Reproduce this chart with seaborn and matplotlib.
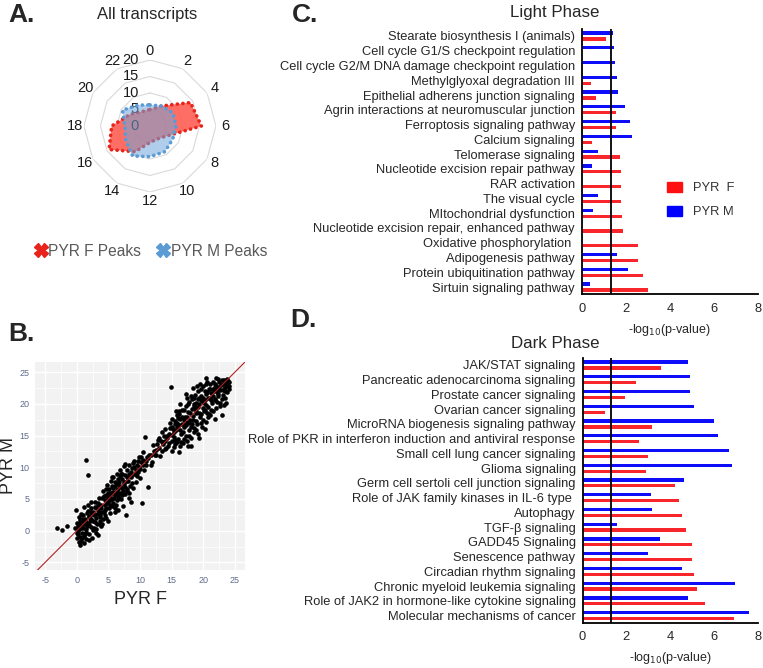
import numpy as np
import pandas as pd
import seaborn as sns
import matplotlib.pyplot as plt
from matplotlib.patches import Patch
from matplotlib.lines import Line2D

# ---- data ----
# A. radar (hour of peak vs number of transcripts)
hours = [0, 2, 4, 6, 8, 10, 12, 14, 16, 18, 20, 22]
pyr_f_peaks = [5, 7, 14.2, 15.6, 6, 4.5, 5, 9, 14.3, 11.6, 7, 5]
pyr_m_peaks = [6.4, 7, 8, 7.9, 8, 9, 9.3, 10.5, 8.5, 7.6, 9.6, 7.3]
radar_rings = [0, 5, 10, 15, 20]

# B. scatter PYR F vs PYR M
pyr_f_expr = [
    -0.3, 0.0, 0.2, 0.4, 0.1, 0.5, 0.7, 0.3, 0.6, 0.9, -0.1, 0.8, 0.2, 0.5, 1.0,
    1.1, 1.3, 1.4, 1.6, 1.2, 1.8, 1.9, 1.5, 2.0, 1.7, 2.2, 2.3, 2.4, 2.1, 2.6,
    2.8, 2.9, 3.0, 3.2, 3.3, 3.4, 3.5, 3.6, 3.8, 3.9, 4.0, 4.1, 4.2, 4.4, 4.5,
    4.6, 4.7, 4.8, 4.9, 5.0, 5.1, 5.2, 5.3, 5.4, 5.5, 5.6, 5.7, 5.8, 5.9, 6.0,
    6.1, 6.2, 6.3, 6.4, 6.5, 6.6, 6.7, 6.8, 6.9, 7.0, 7.1, 7.2, 7.3, 7.4, 7.5,
    7.6, 7.7, 7.8, 7.9, 8.0, 8.1, 8.2, 8.3, 8.5, 8.6, 8.8, 8.9, 9.0, 9.2, 9.4,
    9.5, 9.7, 9.9, 10.0, 10.2, 10.3, 10.4, 10.6, 10.8, 11.0, 11.2, 11.4, 11.7, 12.0, 12.3,
    12.5, 12.8, 13.0, 13.2, 13.5, 13.7, 13.9, 14.0, 14.2, 14.4, 14.6, 14.8, 14.9, 15.0, 15.1,
    15.2, 15.3, 15.5, 15.6, 15.7, 15.9, 16.0, 16.1, 16.2, 16.4, 16.5, 16.7, 16.8, 17.0, 17.1,
    17.2, 17.3, 17.5, 17.6, 17.7, 17.8, 17.9, 18.0, 18.1, 18.2, 18.4, 18.5, 18.6, 18.8, 18.9,
    19.0, 19.1, 19.2, 19.3, 19.5, 19.6, 19.7, 19.8, 20.0, 20.1, 20.2, 20.4, 20.5, 20.6, 20.8,
    21.0, 21.1, 21.3, 21.5, 21.6, 21.8, 22.0, 22.1, 22.3, 22.4, 22.6, 22.8, 23.0, 23.1, 23.3,
    23.5, 23.7, 23.9, 24.0, 23.6,
    -3.2, -2.4, -1.5, 1.5, 1.8,
    14.5, 15.4, 15.8, 16.3, 16.6, 16.9, 17.4, 17.9, 18.3, 18.7, 19.4, 19.9, 20.3, 20.7, 21.2,
    21.7, 22.2, 22.7, 23.2, 23.8, 21.4, 20.9, 19.6, 18.6, 17.6, 16.8, 15.9, 15.1, 14.3, 13.6,
    13.3, 12.6, 11.8, 11.1, 10.5, 9.8, 9.3, 8.7, 8.4, 7.9, 7.4, 6.9, 6.5, 6.1, 5.7,
    5.3, 4.9, 4.4, 3.9, 3.5, 3.1, 2.7, 2.3, 1.9, 1.5, 1.1, 0.7, 0.3, 2.5, 3.7,
    4.3, 5.1, 6.3, 7.2, 8.0, 6.6, 5.5, 4.6, 3.3, 2.2, 18.0, 19.0, 20.4, 22.0, 16.2,
    17.4, 18.9, 20.6, 21.9, 23.4,
    14.1, 14.7, 15.5, 16.0, 16.5, 17.0, 17.3, 17.8, 18.2, 18.5, 18.9, 19.3, 19.7, 20.0, 20.3,
    20.8, 21.1, 21.5, 21.8, 22.3, 22.5, 22.9, 23.3, 23.7, 24.1, 20.5, 19.5, 18.4, 17.2, 16.4,
    15.7, 15.0, 13.8, 13.0, 12.2,
    0.4, 0.9, 1.3, 1.6, 2.0, 2.4, 2.9, 3.2, 3.6, 4.0, 4.5, 4.8, 5.2, 5.6, 6.0,
    6.4, 6.8, 7.2, 7.6, 8.2, 8.9, 9.6, 10.1, 10.9, 0.1, 0.6, 1.2, 3.0,
    14.6, 15.0, 15.3, 15.6, 15.9, 16.1, 16.3, 16.6, 16.9, 17.1, 17.4, 17.6, 17.8, 18.0, 18.2,
    18.5, 18.7, 18.9, 19.1, 19.4, 19.6, 19.8, 20.0, 20.2, 20.4, 20.6, 20.9, 21.1, 21.3, 21.6,
    21.8, 22.0, 22.2, 22.5, 22.7, 22.9, 23.1, 23.4, 23.6, 23.8, 24.0, 23.3, 21.9, 20.1, 19.2,
    0.2, 0.5, 0.8, 1.0, 1.4, 1.7, 2.0, 2.3, 2.6, 2.9, 3.1, 3.4, 3.7, 4.0, 4.3,
    4.6, 4.9, 5.2, 5.5, 5.8, 6.1, 6.4, 6.7, 7.0, 7.3, 7.6, 7.9, 8.2, 8.5, 8.8,
    9.1, 9.4, 9.7, 10.0, 10.5, 11.3, 11.9, 12.7, 13.4, 14.0,
]
pyr_m_expr = [
    0.5, 1.2, -0.5, 0.3, -1.2, -2.2, -1.6, 2.1, 0.9, -0.3, 3.2, 1.6, 0.0, -1.0, 0.5,
    -0.8, 1.9, 0.2, 2.8, 3.8, 1.1, -1.5, -0.2, 2.2, 4.1, 0.6, 3.5, -1.1, 1.5, 2.9,
    0.4, 4.6, 2.0, 1.1, 3.2, -0.7, 5.1, 2.5, 4.0, 0.8, 3.0, 6.2, 1.8, 4.8, 2.4,
    5.6, 3.5, 7.2, 1.5, 4.6, 6.5, 2.8, 5.4, 7.8, 3.9, 6.0, 4.4, 8.5, 5.2, 2.9,
    7.0, 4.0, 6.4, 8.9, 5.5, 3.3, 7.6, 6.0, 9.5, 5.0, 8.1, 6.8, 3.9, 10.2, 7.3,
    5.8, 8.8, 2.5, 6.5, 9.6, 7.9, 5.2, 10.4, 4.6, 8.4, 9.9, 6.7, 11.0, 8.9, 7.6,
    10.3, 9.2, 11.6, 8.3, 10.8, 4.3, 12.4, 9.6, 14.7, 11.0, 6.9, 12.0, 10.4, 13.5, 11.9,
    12.7, 14.3, 13.0, 11.8, 15.5, 14.0, 12.9, 16.1, 14.6, 13.4, 15.3, 17.0, 22.6, 14.2, 12.6,
    16.0, 14.8, 17.3, 13.6, 15.8, 18.2, 14.5, 16.7, 12.4, 17.6, 15.2, 19.0, 13.8, 16.3, 18.0,
    14.9, 19.6, 17.2, 13.3, 15.8, 20.3, 18.6, 16.4, 13.3, 19.2, 17.4, 21.0, 15.5, 18.5, 20.2,
    16.8, 22.0, 19.5, 14.6, 18.0, 21.3, 17.0, 20.4, 22.8, 18.9, 16.0, 21.6, 19.8, 23.4, 17.9,
    20.9, 22.4, 19.0, 23.5, 21.2, 17.6, 22.8, 20.3, 23.9, 21.6, 19.6, 23.0, 18.3, 22.2, 23.8,
    21.0, 22.8, 23.6, 22.3, 20.2,
    0.5, 0.1, 0.7, 11.1, 8.8,
    14.9, 15.6, 16.4, 15.9, 16.9, 17.5, 17.9, 17.4, 18.1, 19.4, 19.9, 19.3, 20.6, 20.9, 21.7,
    22.1, 22.4, 22.2, 23.1, 23.0, 20.1, 22.3, 20.6, 19.9, 18.7, 15.6, 17.0, 15.1, 15.0, 13.6,
    14.1, 12.0, 11.9, 11.6, 10.4, 10.0, 9.5, 8.8, 7.1, 7.9, 7.7, 7.0, 6.6, 5.7, 6.1,
    4.9, 5.1, 4.1, 3.6, 3.0, 3.6, 2.4, 1.9, 2.3, 1.4, 1.0, 0.4, 1.1, 0.1, 1.6,
    2.9, 3.6, 4.9, 5.6, 6.3, 8.1, 7.0, 6.5, 4.4, 3.0, 21.2, 22.8, 23.1, 24.0, 18.9,
    20.9, 15.8, 18.6, 20.6, 22.0,
    13.0, 16.2, 14.3, 17.8, 14.0, 19.0, 16.6, 15.0, 16.9, 19.6, 17.3, 21.0, 18.4, 17.5, 22.0,
    19.5, 18.2, 22.3, 20.8, 21.2, 23.5, 20.8, 19.8, 23.9, 22.8, 24.0, 23.2, 22.5, 21.5, 20.0,
    18.8, 17.6, 15.0, 14.6, 12.6,
    -1.8, 1.9, -0.5, 0.7, -0.6, 2.7, 1.3, 2.7, 1.0, 5.2, 3.3, 4.3, 6.0, 5.0, 7.6,
    6.0, 8.6, 9.0, 6.9, 8.9, 10.6, 8.6, 11.6, 10.3, -0.4, 2.6, -1.9, -0.3,
    13.8, 16.4, 13.2, 16.8, 14.0, 18.4, 13.4, 17.9, 14.4, 16.9, 14.2, 20.0, 17.0, 14.6, 20.8,
    16.2, 21.4, 18.9, 15.2, 18.6, 22.4, 16.4, 21.0, 19.0, 17.2, 21.9, 18.4, 23.2, 20.6, 18.8,
    23.1, 19.4, 21.8, 22.6, 20.2, 23.7, 21.4, 22.7, 23.3, 21.8, 23.4, 22.3, 22.6, 20.1, 20.7,
    0.8, 1.7, -1.2, 2.4, -1.3, 3.1, 0.9, 4.6, 1.6, 3.8, 0.2, 4.1, 2.2, 1.1, 5.5,
    2.0, 6.0, 4.0, 8.5, 6.8, 3.5, 7.3, 5.1, 9.0, 6.2, 10.5, 8.5, 6.0, 9.3, 7.5,
    10.0, 9.0, 11.0, 9.8, 11.2, 11.4, 10.9, 13.6, 12.6, 14.1,
]

# C. light phase pathways (-log10 p)
light_pathways = [
    "Stearate biosynthesis I (animals)", "Cell cycle G1/S checkpoint regulation",
    "Cell cycle G2/M DNA damage checkpoint regulation", "Methylglyoxal degradation III",
    "Epithelial adherens junction signaling", "Agrin interactions at neuromuscular junction",
    "Ferroptosis signaling pathway", "Calcium signaling", "Telomerase signaling",
    "Nucleotide excision repair pathway", "RAR activation", "The visual cycle",
    "MItochondrial dysfunction", "Nucleotide excision repair, enhanced pathway",
    "Oxidative phosphorylation ", "Adipogenesis pathway", "Protein ubiquitination pathway",
    "Sirtuin signaling pathway",
]
light_f = [1.08, 0, 0, 0.41, 0.62, 1.55, 1.56, 0.45, 1.74, 1.79, 1.79, 1.79, 1.82, 1.85,
           2.53, 2.56, 2.76, 3.02]
light_m = [1.41, 1.47, 1.52, 1.59, 1.62, 1.97, 2.17, 2.29, 0.74, 0.45, 0, 0.71, 0.48, 0,
           0, 1.59, 2.08, 0.35]

# D. dark phase pathways
dark_pathways = [
    "JAK/STAT signaling", "Pancreatic adenocarcinoma signaling", "Prostate cancer signaling",
    "Ovarian cancer signaling", "MicroRNA biogenesis signaling pathway",
    "Role of PKR in interferon induction and antiviral response",
    "Small cell lung cancer signaling", "Glioma signaling",
    "Germ cell sertoli cell junction signaling", "Role of JAK family kinases in IL-6 type ",
    "Autophagy", "TGF-β signaling", "GADD45 Signaling", "Senescence pathway",
    "Circadian rhythm signaling", "Chronic myeloid leukemia signaling",
    "Role of JAK2 in hormone-like cytokine signaling", "Molecular mechanisms of cancer",
]
dark_f = [3.60, 2.42, 1.92, 1.02, 3.19, 2.56, 2.97, 2.89, 4.21, 4.40, 4.52, 4.71, 5.00, 5.00,
          5.06, 5.20, 5.60, 6.92]
dark_m = [4.82, 4.90, 4.90, 5.10, 6.01, 6.16, 6.68, 6.80, 4.61, 3.12, 3.15, 1.55, 3.53, 3.00,
          4.55, 6.95, 4.79, 7.60]

sig_cutoff = 1.3  # -log10(0.05)

RED = '#F8262B'
BLUE = '#0D0DFA'
FONT = ['Liberation Sans', 'DejaVu Sans']

sns.set_style('white')
plt.rcParams['font.family'] = FONT
plt.rcParams['axes.unicode_minus'] = False

fig = plt.figure(figsize=(7.63, 6.68), dpi=100)

# ---------- A: radar ----------
axA = fig.add_axes([0.110, 0.7126, 0.173, 0.1976], projection='polar')
theta = np.deg2rad(np.array(hours) * 15.0)
th = np.append(theta, theta[0])
axA.set_theta_zero_location('N')
axA.set_theta_direction(-1)
axA.set_ylim(0, 20)
axA.grid(False)
axA.spines['polar'].set_visible(False)
axA.set_facecolor('none')
axA.set_yticks([])
for r in radar_rings[1:]:
    axA.plot(th, [r] * len(th), color='#d9d9d9', lw=0.8, zorder=1)
f_closed = pyr_f_peaks + pyr_f_peaks[:1]
m_closed = pyr_m_peaks + pyr_m_peaks[:1]
axA.fill(th, f_closed, color='#FF5A4E', alpha=0.88, lw=0, zorder=2)
axA.plot(th, f_closed, color='#E8231B', lw=2.6, linestyle=(0, (0.05, 1.5)),
         dash_capstyle='round', zorder=3)
axA.fill(th, m_closed, color='#6FA6DC', alpha=0.55, lw=0, zorder=4)
axA.plot(th, m_closed, color='#5B9BD5', lw=2.6, linestyle=(0, (0.05, 1.5)),
         dash_capstyle='round', zorder=5)
axA.set_xticks(theta)
axA.set_xticklabels([str(h) for h in hours], fontsize=10.5, color='#1a1a1a')
axA.tick_params(axis='x', pad=-4)
for r in radar_rings:
    axA.annotate(str(r), xy=(0, r), xytext=(-8, 0), textcoords='offset points',
                 ha='right', va='center', fontsize=10.5, color='#1a1a1a')

fig.text(147 / 763, 1 - 14 / 668, 'All transcripts', ha='center', va='center', fontsize=12)
legA = [Line2D([], [], marker='X', linestyle='none', markersize=10, color='#E8231B',
               label='PYR F Peaks'),
        Line2D([], [], marker='X', linestyle='none', markersize=10, color='#5B9BD5',
               label='PYR M Peaks')]
fig.legend(handles=legA, loc='center', bbox_to_anchor=(150 / 763, 1 - 251 / 668), ncol=2,
           frameon=False, fontsize=11.2, handletextpad=0.0, columnspacing=0.9,
           handlelength=1.0, labelcolor='#595959')

# ---------- B: scatter ----------
axB = fig.add_axes([35 / 763, 1 - 570 / 668, 210 / 763, 208 / 668])
axB.set_facecolor('#F2F2F2')
sns.scatterplot(x=pyr_f_expr, y=pyr_m_expr, ax=axB, color='black', s=11, linewidth=0,
                zorder=3)
axB.axline((0, 0), slope=1, color='#B22222', lw=0.8, zorder=4)
axB.set_xlim(-6.6, 26.6)
axB.set_ylim(-6.2, 26.6)
axB.set_xticks(np.arange(-5, 26, 5))
axB.set_yticks(np.arange(-5, 26, 5))
axB.set_xticks(np.arange(-2.5, 26, 5), minor=True)
axB.set_yticks(np.arange(-2.5, 26, 5), minor=True)
axB.grid(True, which='major', color='white', lw=1.0)
axB.grid(True, which='minor', color='white', lw=0.5)
axB.set_axisbelow(True)
for s in axB.spines.values():
    s.set_visible(False)
axB.tick_params(axis='both', which='major', length=2.5, width=0.6, color='#666666',
                labelsize=6.5, labelcolor='#5f6b8a', pad=1.5)
axB.tick_params(axis='both', which='minor', length=0)
axB.set_xlabel('PYR F', fontsize=13)
axB.set_ylabel('PYR M', fontsize=13)
axB.xaxis.set_label_coords(0.5, -0.10)
axB.yaxis.set_label_coords(-0.085, 0.5)


# ---------- C / D: pathway bars ----------
def pathway_bars(rect, names, f_vals, m_vals):
    ax = fig.add_axes(rect)
    df = pd.DataFrame({
        'pathway': names * 2,
        'group': ['PYR M'] * len(names) + ['PYR F'] * len(names),
        'value': m_vals + f_vals,
    })
    sns.barplot(data=df, x='value', y='pathway', hue='group', hue_order=['PYR M', 'PYR F'],
                palette={'PYR M': BLUE, 'PYR F': RED}, orient='h', width=0.8, gap=0.45,
                saturation=1, ax=ax, legend=False, linewidth=0)
    ax.axvline(sig_cutoff, color='black', lw=1.3, zorder=5)
    ax.set_xlim(0, 8)
    ax.set_xticks([0, 2, 4, 6, 8])
    for side in ['top', 'right']:
        ax.spines[side].set_visible(False)
    for side in ['left', 'bottom']:
        ax.spines[side].set_linewidth(1.3)
        ax.spines[side].set_color('black')
    ax.tick_params(axis='both', length=4, width=1.2, color='black', labelsize=9.3, pad=1)
    ax.tick_params(axis='x', pad=2)
    ax.set_ylabel('')
    ax.set_xlabel('-log$_{10}$(p-value)', fontsize=9, labelpad=5)
    return ax


axC = pathway_bars([582 / 763, 1 - 294.4 / 668, 176 / 763, 265.8 / 668],
                   light_pathways, light_f, light_m)
axC.legend(handles=[Patch(color='#FF1010', label='PYR  F'), Patch(color='#0000FF', label='PYR M')],
           loc='center left', bbox_to_anchor=(0.416, 0.355), frameon=False, fontsize=9.3,
           handlelength=1.2, handleheight=0.8, labelspacing=0.9, labelcolor='#333333')
axD = pathway_bars([582.5 / 763, 1 - 623 / 668, 175.5 / 763, 265.4 / 668],
                   dark_pathways, dark_f, dark_m)

fig.text(555 / 763, 1 - 12 / 668, 'Light Phase', ha='center', va='center', fontsize=12.2)
fig.text(555 / 763, 1 - 343 / 668, 'Dark Phase', ha='center', va='center', fontsize=12.2)

# panel letters
for lbl, x, y in [('A.', 8, 15), ('B.', 8, 334), ('C.', 292, 15), ('D.', 290, 320)]:
    fig.text(x / 763, 1 - y / 668, lbl, fontsize=19, fontweight='bold', ha='left', va='center')

fig.savefig('out.png', dpi=100)
